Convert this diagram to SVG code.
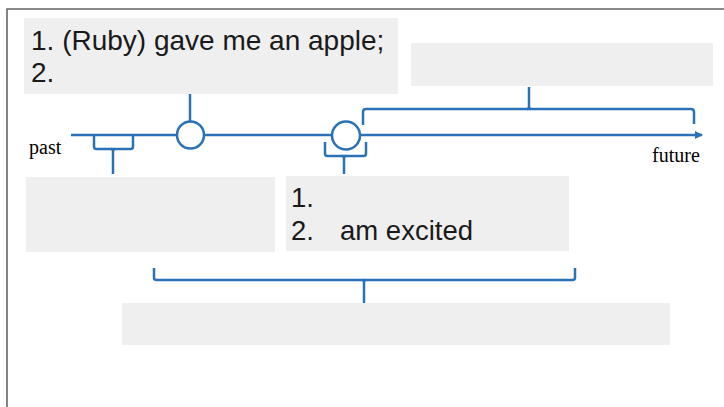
<svg xmlns="http://www.w3.org/2000/svg" width="724" height="407" viewBox="0 0 724 407">
<style>
.box{fill:#efefef}
.ln{fill:none;stroke:#2a71b6;stroke-width:2.5;stroke-linejoin:round;stroke-linecap:butt}
.t{font-family:"Liberation Sans",Arial,sans-serif;font-size:27.5px;fill:#1a1a1a}
.t1{font-size:28px}
.s{font-family:"Liberation Serif","Times New Roman",serif;font-size:20px;fill:#000}
</style>
<defs>
<marker id="ah" markerWidth="10" markerHeight="10" refX="7" refY="4.5" orient="auto" markerUnits="userSpaceOnUse">
<path d="M0,0.5 L8,4.5 L0,8.5 Z" fill="#2a71b6"/>
</marker>
</defs>
<rect width="724" height="407" fill="#fff"/>
<path d="M7,407 V9 H724" fill="none" stroke="#666" stroke-width="1.6"/>
<g id="box-top-left">
<rect class="box" x="24" y="18" width="374" height="76"/>
<text class="t t1" x="31" y="50">1. (Ruby) gave me an apple;</text>
<text class="t t1" x="31" y="82">2.</text>
</g>
<g id="box-top-right"><rect class="box" x="411" y="43" width="302" height="43"/></g>
<g id="box-mid-left"><rect class="box" x="26" y="177" width="249" height="75"/></g>
<g id="box-mid-right">
<rect class="box" x="286" y="176" width="283" height="75"/>
<text class="t" x="291" y="207">1.</text>
<text class="t" x="291" y="240">2.</text>
<text class="t" x="340" y="240">am excited</text>
</g>
<g id="box-bottom"><rect class="box" x="122" y="303" width="548" height="42"/></g>
<g id="labels">
<text class="s" x="29" y="154">past</text>
<text class="s" x="652" y="162">future</text>
</g>
<g id="connectors">
<line class="ln" x1="71" y1="135" x2="177" y2="135"/>
<line class="ln" x1="204" y1="135" x2="332" y2="135"/>
<line class="ln" x1="360" y1="135" x2="702" y2="135" marker-end="url(#ah)"/>
<circle class="ln" cx="190.5" cy="135" r="13.5"/>
<circle class="ln" cx="346" cy="135.5" r="14"/>
<line class="ln" x1="190" y1="94" x2="190" y2="121.5"/>
<path class="ln" d="M94,135 V146.5 Q94,149 96.5,149 H130.5 Q133,149 133,146.5 V135"/>
<path class="ln" d="M113,174 V151 Q113,149 111,149 M113,151 Q113,149 115,149"/>
<path class="ln" d="M325,142 V153.5 Q325,156 327.5,156 H363.5 Q366,156 366,153.5 V142"/>
<path class="ln" d="M344,174 V158 Q344,156 342,156 M344,158 Q344,156 346,156"/>
<path class="ln" d="M363,125 V112 Q363,109 366,109 H691 Q694,109 694,112 V124"/>
<path class="ln" d="M529,87 V107 Q529,109 527,109 M529,107 Q529,109 531,109"/>
<path class="ln" d="M154,268 V277.5 Q154,280 156.5,280 H572.5 Q575,280 575,277.5 V268"/>
<path class="ln" d="M364,303 V282 Q364,280 362,280 M364,282 Q364,280 366,280"/>
</g>
</svg>
